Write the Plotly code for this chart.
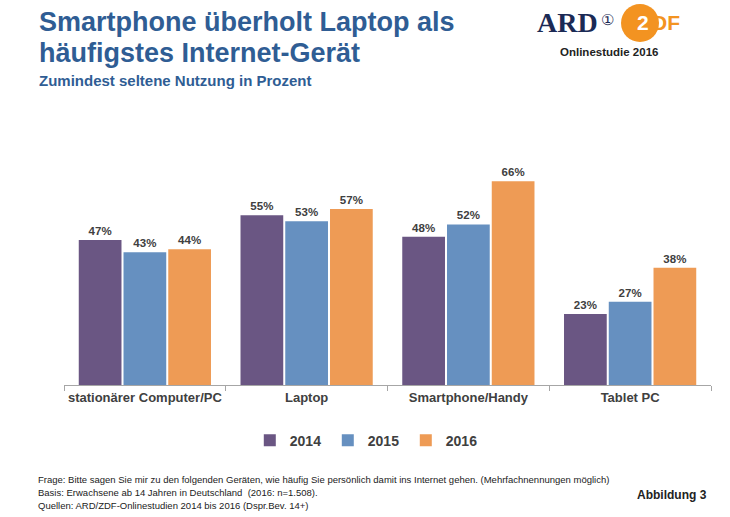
import plotly.graph_objects as go

categories = ["stationärer Computer/PC", "Laptop", "Smartphone/Handy", "Tablet PC"]
years = ["2014", "2015", "2016"]
v2014 = [47, 55, 48, 23]
v2015 = [43, 53, 52, 27]
v2016 = [44, 57, 66, 38]
colors = ["#6A5683", "#6690C0", "#EE9B55"]

FONT = "Liberation Sans, Arial, sans-serif"
TXT = "#404040"
TITLE_C = "#2F5D94"
L, R, T, B = 64, 19, 138, 132

fig = go.Figure()
for name, vals, c in zip(years, [v2014, v2015, v2016], colors):
    fig.add_trace(go.Bar(
        x=categories, y=vals, name=name, marker=dict(color=c, line=dict(width=0)),
        texttemplate="%{y}%", textposition="outside",
        textfont=dict(family=FONT, size=11.5, color=TXT, weight="bold"), cliponaxis=False,
    ))

fig.update_layout(
    width=730, height=517,
    margin=dict(l=L, r=R, t=T, b=B, autoexpand=False),
    paper_bgcolor="white", plot_bgcolor="white",
    barmode="group", bargap=0.17, bargroupgap=0.045,
    font=dict(family=FONT, color=TXT),
    showlegend=True,
    legend=dict(orientation="h", x=0.468, xanchor="center", y=-0.225, yanchor="middle",
                font=dict(family=FONT, size=14, color=TXT, weight="bold"),
                entrywidth=33, itemwidth=30, traceorder="normal"),
    xaxis=dict(showline=True, linecolor="#A6A6A6", linewidth=1, ticks="outside",
               tickson="boundaries", ticklen=5, tickcolor="#A6A6A6", tickangle=0,
               automargin=False,
               tickfont=dict(family=FONT, size=13, color=TXT, weight="bold"),
               showgrid=False, fixedrange=True),
    yaxis=dict(range=[0, 80], visible=False, showgrid=False, fixedrange=True, automargin=False),
)


def px_to_paper(x, y):
    w = 730 - L - R
    h = 517 - T - B
    return (x - L) / w, (517 - B - y) / h


def txt(s, x, y, size, color, bold=True, xanchor="left", yanchor="middle", family=FONT):
    px, py = px_to_paper(x, y)
    fig.add_annotation(text=(f"<b>{s}</b>" if bold else s), x=px, y=py,
                       xref="paper", yref="paper", showarrow=False, xanchor=xanchor, yanchor=yanchor,
                       borderpad=0, font=dict(family=family, size=size, color=color))


txt("Smartphone überholt Laptop als", 38, 22, 27, TITLE_C)
txt("häufigstes Internet-Gerät", 38, 53, 27, TITLE_C)
txt("Zumindest seltene Nutzung in Prozent", 38, 80, 15, TITLE_C)

# Logo
cx, cy, r = 640, 23, 19
x0, y0 = px_to_paper(cx - r, cy - r)
x1, y1 = px_to_paper(cx + r, cy + r)
fig.add_shape(type="circle", xref="paper", yref="paper", x0=x0, x1=x1, y0=y1, y1=y0,
              fillcolor="#F39321", line=dict(width=0), layer="above")
txt("ARD", 536, 22, 28, "#1B2A55", family="Liberation Serif, serif")
txt("①", 607, 19, 15, "#1B2A55", bold=False, xanchor="center")
txt("2", 636, 22, 21, "white", family="Liberation Sans, Arial")
txt("DF", 651, 22, 21, "#F39321", family="Liberation Sans, Arial")
txt("Onlinestudie 2016", 609, 52, 11.5, "#222222", xanchor="center")

# Footnotes
txt("Frage: Bitte sagen Sie mir zu den folgenden Geräten, wie häufig Sie persönlich damit ins Internet gehen. (Mehrfachnennungen möglich)",
    37, 479, 9.5, "#222222", bold=False)
txt("Basis: Erwachsene ab 14 Jahren in Deutschland  (2016: n=1.508).", 37, 492, 9.5, "#222222", bold=False)
txt("Quellen: ARD/ZDF-Onlinestudien 2014 bis 2016 (Dspr.Bev. 14+)", 37, 505, 9.5, "#222222", bold=False)
txt("Abbildung 3", 708, 495, 12, "#222222", xanchor="right")

fig.write_html("out.html", config={"displayModeBar": False},
               post_script="document.body.style.margin='0';")
